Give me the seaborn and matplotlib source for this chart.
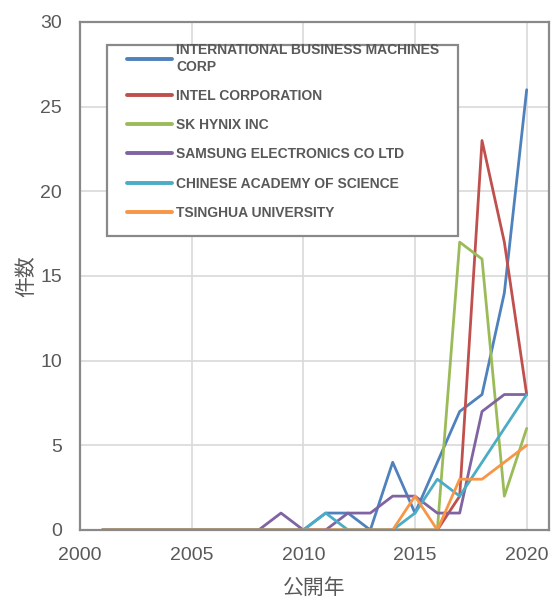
import matplotlib
matplotlib.use("Agg")
import matplotlib.pyplot as plt
from matplotlib.patches import Rectangle
import seaborn as sns
import pandas as pd

# --- data ---
years = list(range(2001, 2021))

companies = [
    "INTERNATIONAL BUSINESS MACHINES CORP",
    "INTEL CORPORATION",
    "SK HYNIX INC",
    "SAMSUNG ELECTRONICS CO LTD",
    "CHINESE ACADEMY OF SCIENCE",
    "TSINGHUA UNIVERSITY",
]
legend_labels = [
    "INTERNATIONAL BUSINESS MACHINES\nCORP",
    "INTEL CORPORATION",
    "SK HYNIX INC",
    "SAMSUNG ELECTRONICS CO LTD",
    "CHINESE ACADEMY OF SCIENCE",
    "TSINGHUA UNIVERSITY",
]

ibm = [0, 0, 0, 0, 0, 0, 0, 0, 0, 0, 1, 1, 0, 4, 1, 4, 7, 8, 14, 26]
intel = [0, 0, 0, 0, 0, 0, 0, 0, 0, 0, 0, 0, 0, 0, 0, 0, 2, 23, 17, 8]
hynix = [0, 0, 0, 0, 0, 0, 0, 0, 0, 0, 0, 0, 0, 0, 0, 0, 17, 16, 2, 6]
samsung = [0, 0, 0, 0, 0, 0, 0, 0, 1, 0, 0, 1, 1, 2, 2, 1, 1, 7, 8, 8]
cas = [0, 0, 0, 0, 0, 0, 0, 0, 0, 0, 1, 0, 0, 0, 1, 3, 2, 4, 6, 8]
tsinghua = [0, 0, 0, 0, 0, 0, 0, 0, 0, 0, 0, 0, 0, 0, 2, 0, 3, 3, 4, 5]

colors = ["#4F81BD", "#C0504D", "#9BBB59", "#8064A2", "#4BACC6", "#F79646"]

series = [ibm, intel, hynix, samsung, cas, tsinghua]
rows = []
for name, vals in zip(companies, series):
    for y, v in zip(years, vals):
        rows.append({"year": y, "count": v, "company": name})
df = pd.DataFrame(rows)

# --- style ---
sns.set_theme(style="white")
plt.rcParams["font.family"] = ["Liberation Sans", "Noto Sans CJK JP", "DejaVu Sans"]
TEXT = "#595959"
FRAME = "#898989"
CJK = ["Noto Sans CJK JP", "DejaVu Sans"]

fig = plt.figure(figsize=(5.54, 5.99), dpi=100)
ax = fig.add_axes([0.1444, 0.1152, 0.8466, 0.8481])

sns.lineplot(
    data=df,
    x="year",
    y="count",
    hue="company",
    hue_order=companies,
    palette=colors,
    linewidth=2.0,
    ax=ax,
)

ax.set_xlim(2000, 2021)
ax.set_ylim(0, 30)
ax.set_xticks([2000, 2005, 2010, 2015, 2020])
ax.set_yticks([0, 5, 10, 15, 20, 25, 30])
ax.grid(True, color="#d9d9d9", linewidth=1.2)
ax.set_axisbelow(True)
for s in ax.spines.values():
    s.set_color(FRAME)
    s.set_linewidth(1.6)
ax.tick_params(axis="both", length=0, labelsize=14, labelcolor=TEXT)
ax.tick_params(axis="x", pad=12.5)
ax.tick_params(axis="y", pad=13)

ax.set_xlabel("公開年", fontsize=15, color=TEXT, family=CJK, labelpad=9)
ax.set_ylabel("件数", fontsize=15, color=TEXT, family=CJK, labelpad=2)

# legend frame drawn separately (text touches the top edge like the original)
ax.add_patch(Rectangle((0.0576, 0.5787), 0.7484, 0.376, transform=ax.transAxes,
                       fill=True, facecolor="white", edgecolor=FRAME,
                       linewidth=1.6, zorder=4))

handles, _ = ax.get_legend_handles_labels()
leg = ax.legend(
    handles,
    legend_labels,
    loc="upper left",
    bbox_to_anchor=(0.1002, 0.958),
    borderaxespad=0,
    borderpad=0,
    frameon=False,
    fontsize=10,
    labelspacing=1.1,
    handlelength=3.25,
    handletextpad=0.3,
)
leg.set_zorder(5)
for t in leg.get_texts():
    t.set_color(TEXT)
    t.set_fontweight("bold")
for h in leg.get_lines():
    h.set_linewidth(2.8)

fig.savefig("out.png", dpi=100)
